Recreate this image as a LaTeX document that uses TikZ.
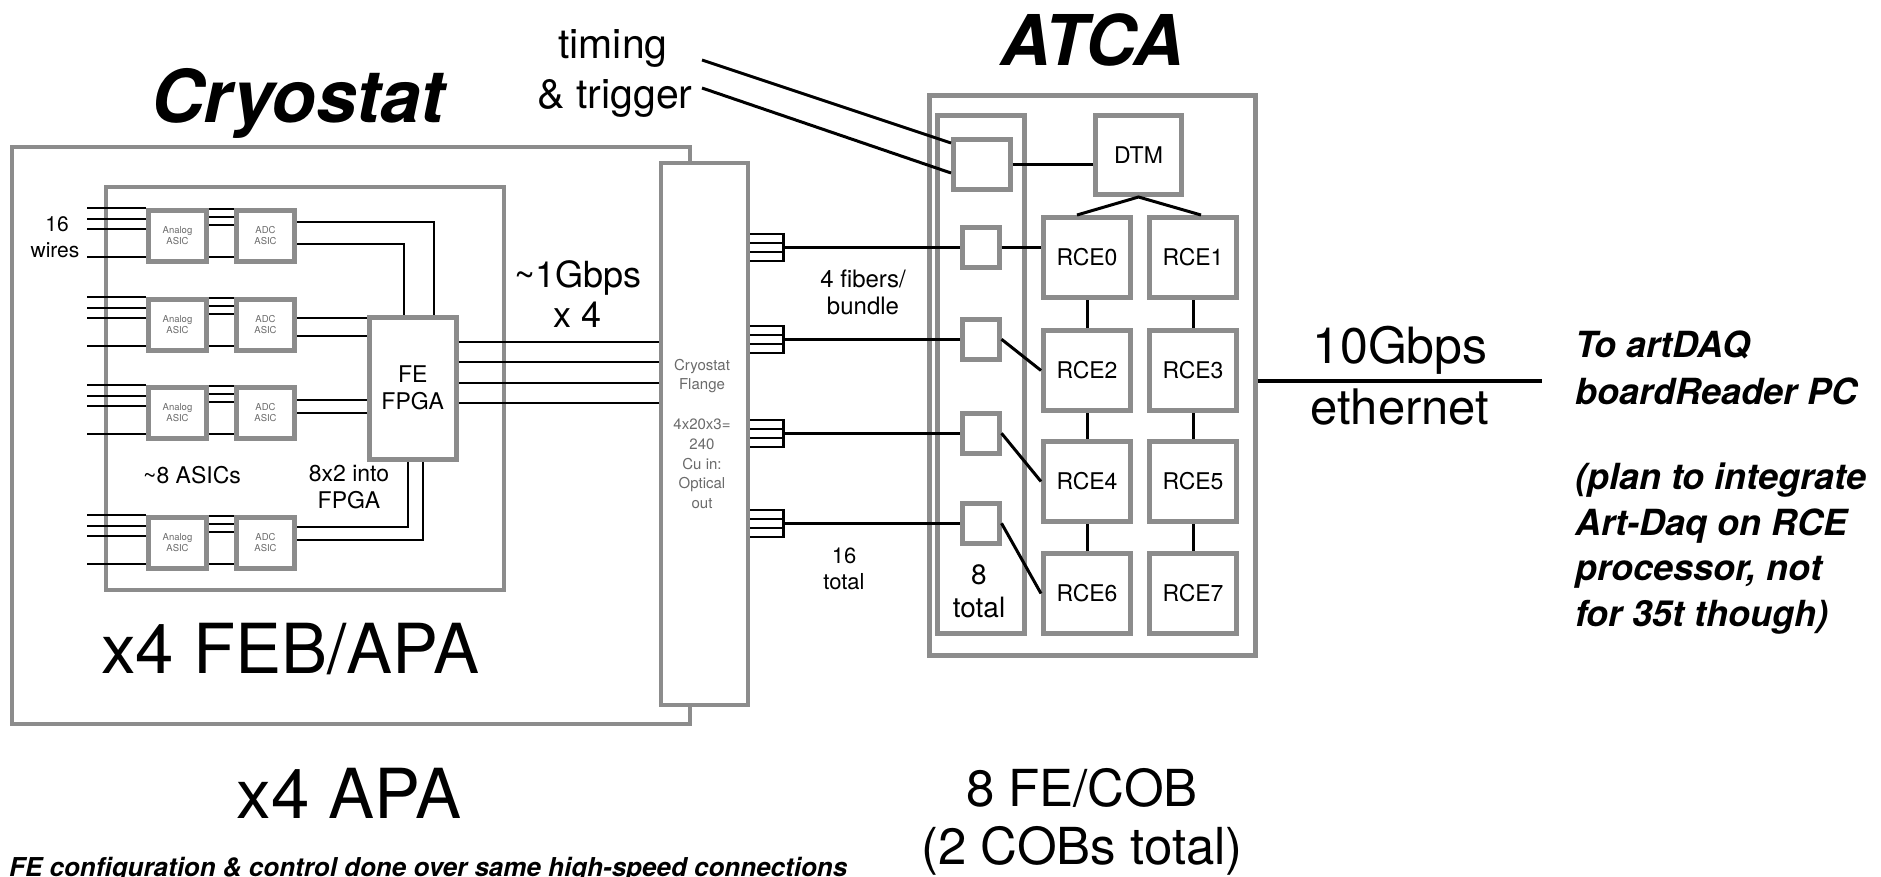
\documentclass[tikz,border=0pt]{standalone}
\usepackage{fontspec}
\setmainfont{TeX Gyre Heros}
\usetikzlibrary{calc}
\definecolor{boxgray}{gray}{0.55}
\definecolor{txtgray}{gray}{0.42}
\newcommand{\fsz}[2]{\fontsize{#1}{#2}\selectfont}
\begin{document}
\begin{tikzpicture}[x=1pt,y=-1pt,
  gbox/.style={draw=boxgray,line width=#1,fill=white,inner sep=0pt,anchor=north west,rectangle,align=center},
  gbox/.default=4.5pt,
  sz/.style 2 args={minimum width=#1pt,minimum height=#2pt},
  lab/.style={anchor=base,inner sep=0pt},
  wire/.style={line width=2pt,black},
  conn/.style={line width=3pt,black},
  fiber/.style={line width=3.5pt,black},
  bi/.style={font=\fsz{#1}{#1}\bfseries\itshape}]
\fill[white] (0,0) rectangle (1881,876);
\useasboundingbox (0,0) rectangle (1881,876);

% ---------- titles ----------
\node[lab,bi=73] (tcryo) at (298,122) {Cryostat};
\node[lab,bi=70] (tatca) at (1092,65) {ATCA};
\node[lab,font=\fsz{41}{41}] (ttiming) at (613,58) {timing};
\node[lab,font=\fsz{41}{41}] (ttrig) at (615,108) {\& trigger};

% ---------- cryostat ----------
\node[gbox=4pt,sz={678}{577}] (cryo) at (10,145) {};
\node[gbox=4pt,sz={398}{403}] (feb) at (104,185) {};

\foreach \T [count=\i] in {208,297,385,515}{
  \node[gbox=5pt,sz={58}{51},font=\fsz{9.5}{11},text=txtgray] (an\i) at (146,\T) {Analog\\ASIC};
  \node[gbox=5pt,sz={58}{51},font=\fsz{9.5}{11},text=txtgray] (ad\i) at (234,\T) {ADC\\ASIC};
  \foreach \d [count=\j] in {0,11,21,49}{
    \coordinate (w\i\j) at (87,\T+\d);
    \draw[wire] (w\i\j) -- (an\i.west |- w\i\j);
  }
  \foreach \d in {1,9,17,49}
    \draw[wire] (an\i.east |- 0,\T+\d) -- (ad\i.west |- 0,\T+\d);
}

\node[gbox=4.5pt,sz={87}{142},font=\fsz{23}{27}] (fpga) at (367,315) {FE\\FPGA};

\draw[wire] (ad1.east |- 0,222) -| (fpga.north -| 434,0);
\draw[wire] (ad1.east |- 0,244) -| (fpga.north -| 404,0);
\draw[wire] (ad2.east |- 0,318) -- (fpga.west |- 0,318);
\draw[wire] (ad2.east |- 0,336) -- (fpga.west |- 0,336);
\draw[wire] (ad3.east |- 0,400) -- (fpga.west |- 0,400);
\draw[wire] (ad3.east |- 0,413) -- (fpga.west |- 0,413);
\draw[wire] (ad4.east |- 0,527) -| (fpga.south -| 408,0);
\draw[wire] (ad4.east |- 0,540) -| (fpga.south -| 423,0);

\node[gbox=4pt,sz={87}{542}] (flange) at (659,161) {};
\foreach \y in {342,362,383,403}
  \draw[wire] (fpga.east |- 0,\y) -- (flange.west |- 0,\y);

\foreach \s/\y [count=\k] in {Cryostat/370,Flange/389,4x20x3=/429,240/449,Cu in:/469,Optical/488,out/508}
  \node[lab,font=\fsz{15}{15},text=txtgray] (fl\k) at (702,\y) {\s};

\node[lab,font=\fsz{21}{21}] (t16) at (57,231) {16};
\node[lab,font=\fsz{21}{21}] (twires) at (55,257) {wires};
\node[lab,font=\fsz{23}{23}] (tasics) at (192,483) {\textasciitilde 8 ASICs};
\node[lab,font=\fsz{23}{23}] (t8x2) at (349,481) {8x2 into};
\node[lab,font=\fsz{23}{23}] (t8x2b) at (349,508) {FPGA};
\node[lab,font=\fsz{36}{36}] (t1g) at (578,287) {\textasciitilde 1Gbps};
\node[lab,font=\fsz{36}{36}] (t1gb) at (578,327) {x 4};
\node[lab,font=\fsz{69}{69}] (tfeb) at (290,673) {x4 FEB/APA};
\node[lab,font=\fsz{69}{69}] (tapa) at (349,818) {x4 APA};
\node[anchor=base west,inner sep=0pt,bi=26] (tnote) at (9,876) {FE configuration \& control done over same high-speed connections};

% ---------- ATCA ----------
\node[gbox=4.5pt,sz={326}{560}] (atca) at (927,93) {};
\node[gbox=4.5pt,sz={87}{518}] (col) at (935,113) {};
\node[gbox=4.5pt,sz={57}{50}] (tb) at (951,137) {};
\node[gbox=5pt,sz={86}{79},font=\fsz{23}{23}] (dtm) at (1093,113) {DTM};
\foreach \y [count=\r from 0] in {215,328,439,551}{
  \pgfmathtruncatemacro{\a}{2*\r}
  \pgfmathtruncatemacro{\b}{2*\r+1}
  \node[gbox=5pt,sz={87}{80},font=\fsz{23}{23}] (rce\a) at (1041,\y) {RCE\a};
  \node[gbox=5pt,sz={87}{80},font=\fsz{23}{23}] (rce\b) at (1147,\y) {RCE\b};
}
\foreach \y [count=\k] in {225,317,411,501}
  \node[gbox=4.5pt,sz={37}{40}] (sb\k) at (960,\y) {};

\foreach \k in {1,...,4}{
  \coordinate (bb\k) at (783,0 |- sb\k.west);
  \foreach \d in {-13.5,-4.5,4.5,13.5}
    \draw[wire] ($(flange.east |- bb\k)+(0,\d)$) -- ($(bb\k)+(0,\d)$);
  \draw[line width=3pt] ($(bb\k)+(0,-14.5)$) -- ($(bb\k)+(0,14.5)$);
  \draw[fiber] (bb\k) -- (sb\k.west);
}

\coordinate (tt1) at (702,60);
\coordinate (tt2) at (702,88);
\draw[conn] (tt1) -- (tb.west |- 0,143);
\draw[conn] (tt2) -- (tb.west |- 0,173);
\draw[conn] (tb.east) -- (tb.east -| dtm.west);
\draw[conn] ($(rce0.north)+(-10,0)$) -- (dtm.south) -- ($(rce1.north)+(8,0)$);
\draw[conn] (sb1.east) -- (sb1.east -| rce0.west);
\draw[conn] (sb2.east) -- (rce2.west);
\draw[conn] (sb3.east) -- (rce4.west);
\draw[conn] (sb4.east) -- (rce6.west);
\foreach \u/\v in {0/2,2/4,4/6,1/3,3/5,5/7}
  \draw[conn] (rce\u.south) -- (rce\v.north);
\coordinate (ethend) at (1542,381);
\draw[fiber] (atca.east |- ethend) -- (ethend);

\node[lab,font=\fsz{24}{24}] (tfib) at (863,287) {4 fibers/};
\node[lab,font=\fsz{24}{24}] (tbun) at (863,314) {bundle};
\node[lab,font=\fsz{22}{22}] (t16t) at (844,563) {16};
\node[lab,font=\fsz{22}{22}] (t16tb) at (844,589) {total};
\node[lab,font=\fsz{28}{28}] (t8) at (979,584) {8};
\node[lab,font=\fsz{28}{28}] (t8b) at (979,617) {total};
\node[lab,font=\fsz{50}{50}] (t10g) at (1400,363) {10Gbps};
\node[lab,font=\fsz{49}{49}] (teth) at (1400,424) {ethernet};
\node[lab,font=\fsz{51}{51}] (tfecob) at (1082,806) {8 FE/COB};
\node[lab,font=\fsz{51}{51}] (tcobs) at (1082,864) {(2 COBs total)};

\node[anchor=base west,inner sep=0pt,bi=36] (rt1) at (1575,357) {To artDAQ};
\node[anchor=base west,inner sep=0pt,bi=36] (rt2) at (1575,404) {boardReader PC};
\node[anchor=base west,inner sep=0pt,bi=36] (rt3) at (1575,489) {(plan to integrate};
\node[anchor=base west,inner sep=0pt,bi=36] (rt4) at (1575,535) {Art-Daq on RCE};
\node[anchor=base west,inner sep=0pt,bi=36] (rt5) at (1575,580) {processor, not};
\node[anchor=base west,inner sep=0pt,bi=36] (rt6) at (1575,626) {for 35t though)};
\end{tikzpicture}
\end{document}
